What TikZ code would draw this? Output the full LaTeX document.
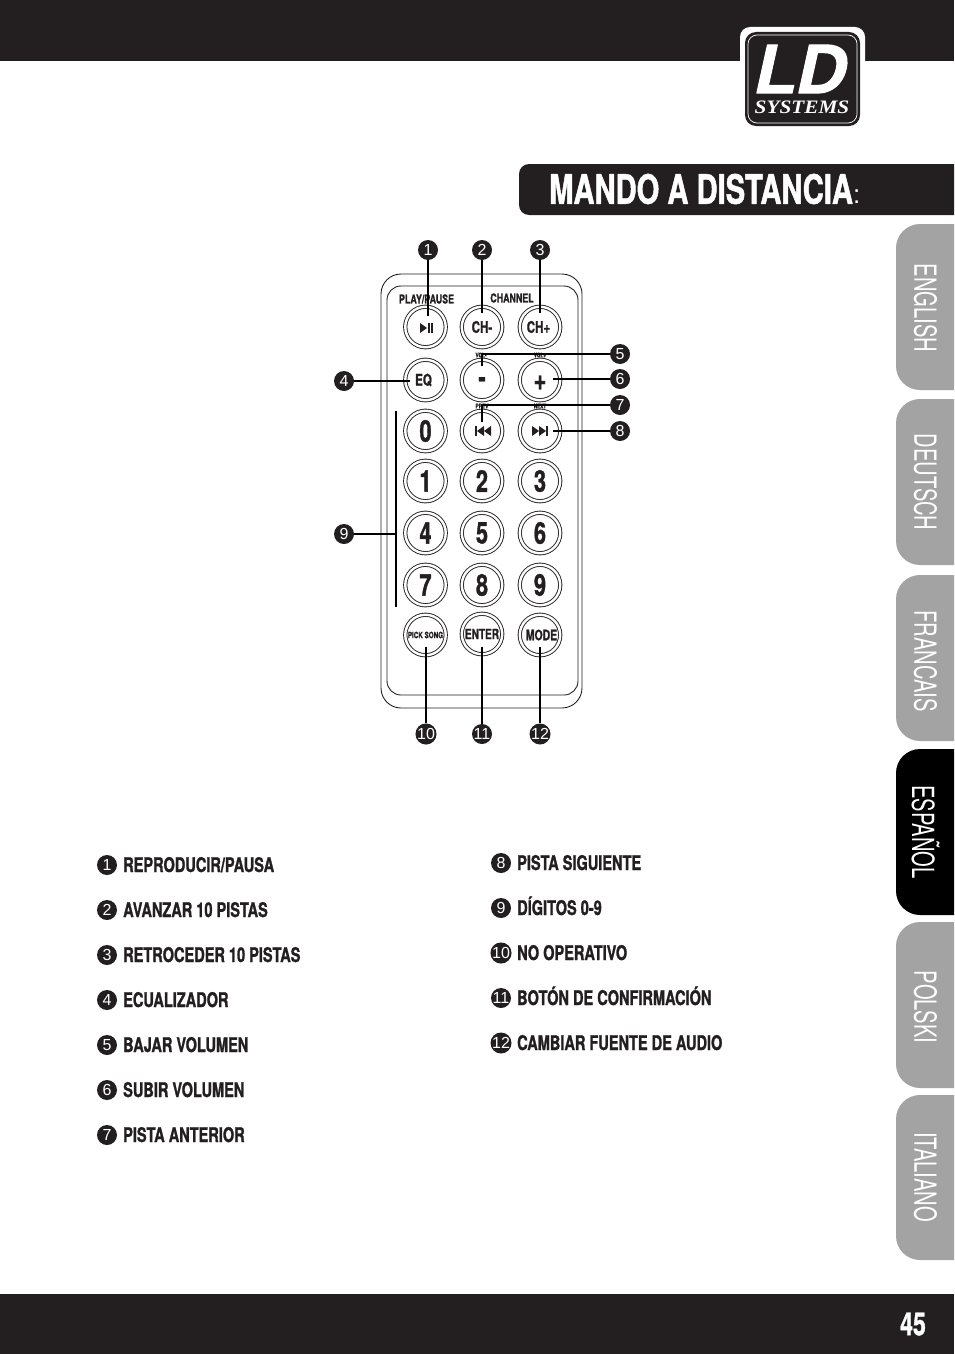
\documentclass[tikz,border=0pt]{standalone}
\usepackage{fontspec}
\setmainfont{TeX Gyre Heros}
\newfontfamily\condfont[FakeStretch=0.72,FakeBold=1.2]{TeX Gyre Heros}
\newfontfamily\tabfont[FakeStretch=0.66]{TeX Gyre Heros}
\newfontfamily\plainfont{Liberation Sans}
\newfontfamily\logofont[FakeStretch=0.98,FakeSlant=0.22,FakeBold=1.5]{Liberation Sans}
\newfontfamily\logoserif[FakeStretch=1.12]{Liberation Serif}
\definecolor{barblack}{HTML}{231F20}
\definecolor{tabgray}{HTML}{A3A3A3}
\tikzset{
  callout/.style={circle,fill=barblack,text=white,inner sep=0pt,minimum size=20pt,font=\plainfont\fontsize{16}{16}\selectfont},
  btn/.style={circle,draw=barblack,double,double distance=2.4pt,line width=.9pt,minimum size=40.5pt,inner sep=0pt,text=barblack,font=\condfont\bfseries\fontsize{16}{16}\selectfont},
  digit/.style={btn,font=\condfont\bfseries\fontsize{30}{30}\selectfont},
  tiny/.style={text=barblack,inner sep=0pt,font=\condfont\bfseries\fontsize{12.3}{12.3}\selectfont},
  micro/.style={tiny,font=\condfont\bfseries\fontsize{6.5}{6.5}\selectfont},
  entry/.style={anchor=base west,inner sep=0pt,text=barblack,font=\condfont\bfseries\fontsize{20.2}{20.2}\selectfont},
  leader/.style={line width=1.8pt,draw=black,line cap=butt},
  tabtext/.style={rotate=-90,inner sep=0pt,font=\tabfont\fontsize{30.5}{30.5}\selectfont}
}
\begin{document}
\begin{tikzpicture}[line cap=round,line join=round,x=1pt,y=-1pt]
\useasboundingbox (0,0) rectangle (954,1354);
\fill[barblack] (0,0) rectangle (954,61);
\fill[barblack] (0,1294) rectangle (954,1354);
\fill[barblack] (954,164) [rounded corners=10pt] -- (519,164) -- (519,215) [sharp corners] -- (954,215) -- cycle;
\node[anchor=west,inner sep=0pt,text=white] (title) at (549,189) {\condfont\bfseries\fontsize{40.5}{40.5}\selectfont MANDO A DISTANCIA\plainfont\mdseries\fontsize{26}{26}\selectfont:};
\node[inner sep=0pt,text=white] (page) at (913,1324) {\condfont\bfseries\fontsize{32}{32}\selectfont 45};
\fill[white,rounded corners=10pt] (740,27) rectangle (865,131);
\fill[barblack,rounded corners=11pt] (745,32) rectangle (860,126);
\draw[white,line width=.7pt,rounded corners=9pt] (748,35) rectangle (857,123);
\node[inner sep=0pt,text=white] (logold) at (798,69) {\logofont\bfseries\fontsize{70}{70}\selectfont LD};
\node[inner sep=0pt,text=white] (logosys) at (802,107.5) {\logoserif\bfseries\itshape\fontsize{19}{19}\selectfont SYSTEMS};
\foreach \ya/\yb/\yt/\col/\lang in {224/390/308/tabgray/ENGLISH,399/565/482/tabgray/DEUTSCH,575/741/661/tabgray/FRANCAIS,749/915/832/black/ESPAÑOL,922/1088/1007/tabgray/POLSKI,1095/1260/1177/tabgray/ITALIANO}
{
  \fill[\col] (954,\ya) [rounded corners=24pt] -- (896,\ya) -- (896,\yb) [sharp corners] -- (954,\yb) -- cycle;
  \node[tabtext,text=white] (tab\lang) at (925.5,\yt) {\lang};
}
\draw[barblack,line width=.9pt,rounded corners=20pt] (381,274) rectangle (582,708);
\draw[barblack,line width=.9pt,rounded corners=14pt] (387,286) rectangle (578,695);
\node[tiny] (playlbl) at (426.5,299) {PLAY/PAUSE};
\node[tiny] (chlbl) at (512,298) {CHANNEL};
\node[micro] (vollbl) at (481,355) {VOL-};
\node[micro] (vplbl) at (540,355) {VOL+};
\node[micro] (prevlbl) at (482,406) {PREV};
\node[micro] (nextlbl) at (540,406) {NEXT};
\node[btn] (play) at (425.5,327) {};
\node[btn] (chm) at (482,327) {CH-};
\node[btn] (chp) at (540,327) {\hspace*{-3pt}CH+};
\node[btn] (eq) at (425.5,380) {\hspace*{-4pt}EQ};
\node[digit] (volm) at (482,380) {\smash{\raisebox{-7.5pt}{-}}};
\node[digit] (volp) at (540,380) {\smash{\raisebox{-10pt}{+}}};
\node[btn] (prev) at (482,431) {};
\node[btn] (next) at (540,431) {};
\foreach \x/\y/\d in {425.5/431/0,425.5/481/1,482/481/2,540/481/3,425.5/533/4,482/533/5,540/533/6,425.5/585/7,482/585/8,540/585/9}
  \node[digit] (key\d) at (\x,\y) {\d};
\node[btn,font=\condfont\bfseries\fontsize{8.7}{8.7}\selectfont] (pick) at (425.5,635) {PICK SONG};
\node[btn,font=\condfont\bfseries\fontsize{14}{14}\selectfont] (enter) at (482,634) {ENTER};
\node[btn,font=\condfont\bfseries\fontsize{14.5}{14.5}\selectfont] (mode) at (540,635) {\hspace*{3pt}MODE};
\fill[barblack] (420,323) -- (427,328) -- (420,333) -- cycle;
\fill[barblack] (428,323) rectangle (429.6,333);
\fill[barblack] (431,323) rectangle (432.6,333);
\fill[barblack] (475,426) rectangle (477,436);
\fill[barblack] (484,426) -- (477,431) -- (484,436) -- cycle;
\fill[barblack] (491,426) -- (484,431) -- (491,436) -- cycle;
\fill[barblack] (532,426) -- (539,431) -- (532,436) -- cycle;
\fill[barblack] (539,426) -- (546,431) -- (539,436) -- cycle;
\fill[barblack] (546,426) rectangle (548,436);
\foreach \n/\x/\y in {1/428/250,2/482/250,3/540/250,4/344/381,5/620/354,6/620/379,7/620/405,8/620/431,9/344/534,10/426/734,11/482/734,12/540/734}
  \node[callout] (c\n) at (\x,\y) {\n};
\coordinate (e1) at (428,316);
\coordinate (e2) at (482,313);
\coordinate (e3) at (540,313);
\coordinate (e4) at (410,381);
\coordinate (e5) at (482,366);
\coordinate (k5) at (482,354);
\coordinate (e6) at (553,379);
\coordinate (e7) at (482,422);
\coordinate (k7) at (482,405);
\coordinate (e8) at (553,431);
\coordinate (bartop) at (396,411);
\coordinate (barbot) at (396,607);
\coordinate (e9) at (396,534);
\coordinate (e10) at (426,647);
\coordinate (e11) at (482,647);
\coordinate (e12) at (540,647);
\draw[leader] (c1) -- (e1);
\draw[leader] (c2) -- (e2);
\draw[leader] (c3) -- (e3);
\draw[leader] (c4) -- (e4);
\draw[leader] (c5) -- (k5) -- (e5);
\draw[leader] (c6) -- (e6);
\draw[leader] (c7) -- (k7) -- (e7);
\draw[leader] (c8) -- (e8);
\draw[leader] (bartop) -- (barbot);
\draw[leader] (c9) -- (e9);
\draw[leader] (c10) -- (e10);
\draw[leader] (c11) -- (e11);
\draw[leader] (c12) -- (e12);
\foreach \n/\y/\txt in {1/865/REPRODUCIR\slash PAUSA,2/910/AVANZAR 10 PISTAS,3/955/RETROCEDER 10 PISTAS,4/1000/ECUALIZADOR,5/1045/BAJAR VOLUMEN,6/1090/SUBIR VOLUMEN,7/1135/PISTA ANTERIOR}
{
  \node[callout] (n\n) at (107,\y) {\n};
  \node[entry] (t\n) at (123,\y+7) {\txt};
}
\foreach \n/\y/\txt in {8/863/PISTA SIGUIENTE,9/908/DÍGITOS 0-9,10/953/NO OPERATIVO,11/998/BOTÓN DE CONFIRMACIÓN,12/1043/CAMBIAR FUENTE DE AUDIO}
{
  \node[callout] (n\n) at (501,\y) {\n};
  \node[entry] (t\n) at (517,\y+7) {\txt};
}
\end{tikzpicture}
\end{document}
